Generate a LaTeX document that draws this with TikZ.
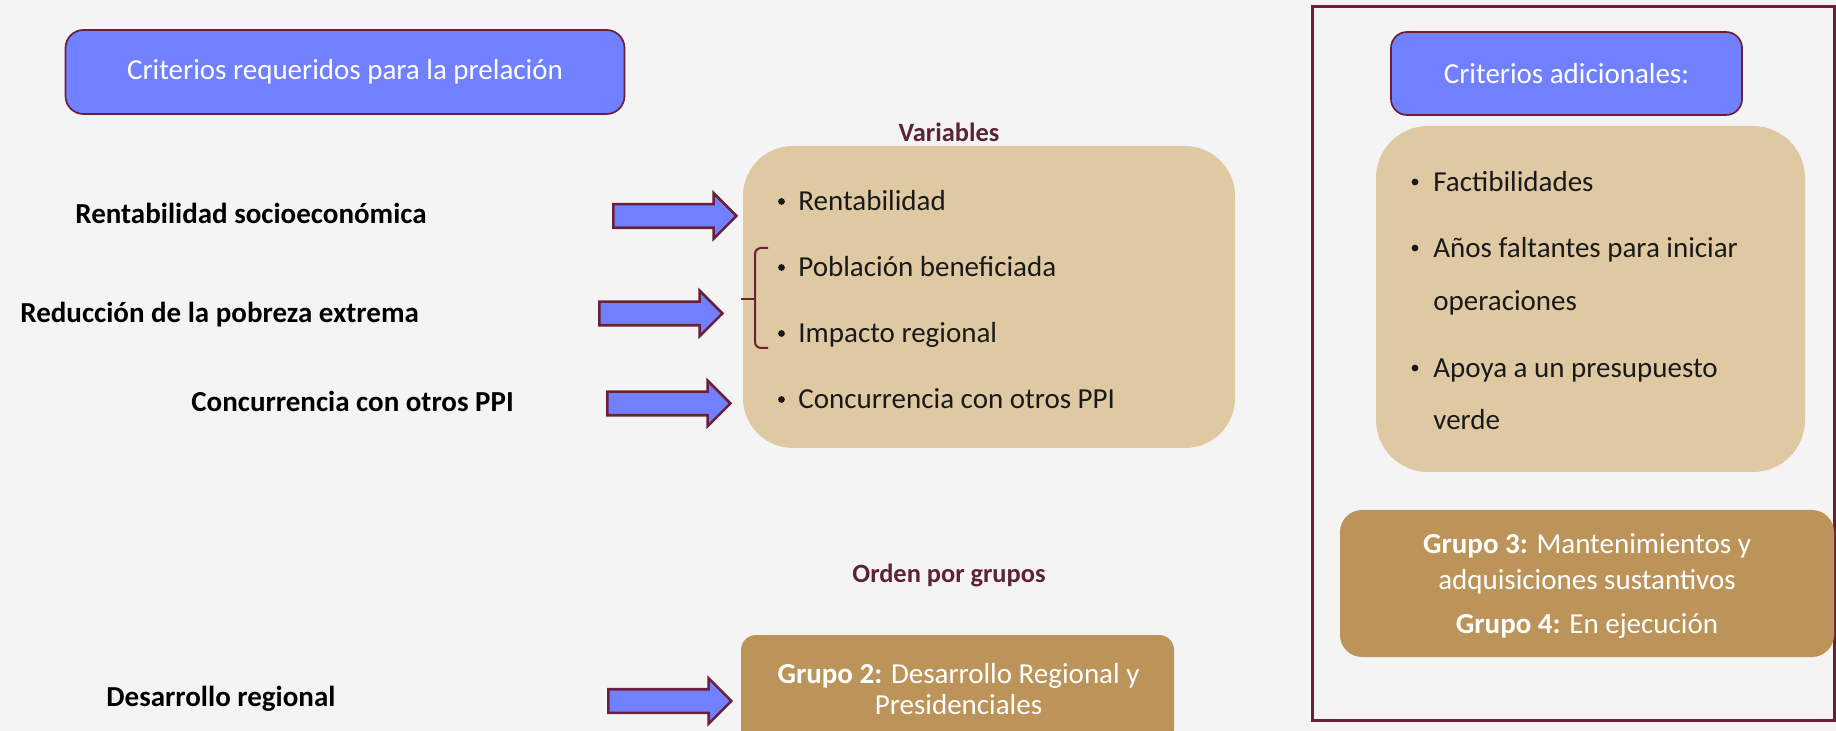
\documentclass[tikz,border=0pt]{standalone}
\usepackage{fontspec}
\setmainfont{Carlito}
\usetikzlibrary{shapes.arrows}
\definecolor{bg}{HTML}{F4F4F4}
\definecolor{bluefill}{HTML}{7080FF}
\definecolor{maroon}{HTML}{6B1F3A}
\definecolor{tanfill}{HTML}{DFC9A3}
\definecolor{goldfill}{HTML}{BC9459}
\definecolor{darkred}{HTML}{5C2333}
\tikzset{
  bluebox/.style={draw=maroon, line width=0.85pt, fill=bluefill, rounded corners=9pt, text=white, inner sep=0pt},
  tanbox/.style={fill=tanfill, draw=none, inner sep=0pt},
  goldbox/.style={fill=goldfill, draw=none, inner sep=0pt},
  lbl/.style={anchor=base west, inner sep=0pt, font=\fontsize{14.5}{17}\selectfont\bfseries},
  hdr/.style={inner sep=0pt, text=darkred, font=\fontsize{13.2}{15}\selectfont\bfseries},
  blockarrow/.style={single arrow, draw=maroon, line width=1.3pt, fill=bluefill,
    single arrow head extend=5.5pt, single arrow tip angle=90, minimum height=61.5pt,
    minimum width=0pt, text height=5.25pt, text depth=5.25pt, text width=0pt, inner sep=0pt},
  bul/.style={circle, fill=black!90, inner sep=0pt, minimum size=3.4pt},
  itm/.style={anchor=base west, inner sep=0pt, text=black!90},
  lfont/.style={font=\fontsize{14.5}{17}\selectfont},
  wtxt/.style={anchor=base, inner sep=0pt, text=white}
}
\begin{document}
\begin{tikzpicture}[x=0.5pt,y=-0.5pt]
\clip (0,0) rectangle (1836,731);
\fill[bg] (0,0) rectangle (1836,731);

% left title
\node[bluebox, minimum width=279.5pt, minimum height=42pt, lfont] (crit) at (345,72) {Criterios requeridos para la prelación};

% variables box
\node[hdr] (vartitle) at (949,132) {Variables};
\node[tanbox, rounded corners=25pt, minimum width=246pt, minimum height=151pt] (varbox) at (989,297) {};
\foreach \t/\yy [count=\i] in {Rentabilidad/211, Población beneficiada/277, Impacto regional/343, Concurrencia con otros PPI/409} {
  \node[bul] (vb\i) at (781.5,\yy-9.5) {};
  \node[itm, lfont] (vt\i) at (798,\yy) {\t};
}
% bracket
\coordinate (brtop) at (768,248);
\coordinate (brbot) at (768,348);
\coordinate (brmid) at (755,299);
\coordinate (brtick) at (741,299);
\draw[maroon, line width=1pt, rounded corners=3pt] (brtop) -| (brmid) |- (brbot);
\draw[maroon, line width=1.2pt] (brtick) -- (brmid);

% arrows
\node[blockarrow] (a1) at (669,216) {};
\node[blockarrow] (a2) at (655,313.5) {};
\node[blockarrow] (a3) at (663,403.5) {};
\node[blockarrow] (a4) at (664,701) {};

% left labels
\node[lbl] (l1) at (75,224) {Rentabilidad socioeconómica};
\node[lbl] (l2) at (20,323) {Reducción de la pobreza extrema};
\node[lbl] (l3) at (191,412) {Concurrencia con otros PPI};
\node[lbl] (l4) at (106,706) {Desarrollo regional};

% orden por grupos
\node[hdr] (orden) at (949,575) {Orden por grupos};
\node[goldbox, rounded corners=7.5pt, minimum width=216.5pt, minimum height=55pt] (g2) at (957.5,690) {};
\node[wtxt, lfont] (g2a) at (958.5,683) {\textbf{Grupo 2:} Desarrollo Regional y};
\node[wtxt, lfont] (g2b) at (958.5,714) {Presidenciales};

% right frame
\node[draw=maroon, line width=1.5pt, minimum width=261pt, minimum height=356.5pt, inner sep=0pt] (frame) at (1573,363.5) {};
\node[bluebox, rounded corners=8pt, minimum width=175.5pt, minimum height=41.5pt, lfont] (adic) at (1566.5,73.5) {Criterios adicionales:};
\node[tanbox, rounded corners=26pt, minimum width=214.5pt, minimum height=173pt] (adbox) at (1590.5,299) {};
\node[bul] (rb1) at (1415,182) {};
\node[itm, lfont] (rt1) at (1433,191.5) {Factibilidades};
\node[bul] (rb2) at (1415,248) {};
\node[itm, lfont] (rt2) at (1433,257.5) {Años faltantes para iniciar};
\node[itm, lfont] (rt2b) at (1433,310.5) {operaciones};
\node[bul] (rb3) at (1415,368) {};
\node[itm, lfont] (rt3) at (1433,377.5) {Apoya a un presupuesto};
\node[itm, lfont] (rt3b) at (1433,429.5) {verde};

\node[goldbox, rounded corners=11pt, minimum width=247pt, minimum height=73.5pt] (g34) at (1587,583.5) {};
\node[wtxt, lfont] (g3a) at (1587,554) {\textbf{Grupo 3:} Mantenimientos y};
\node[wtxt, lfont] (g3b) at (1587,589) {adquisiciones sustantivos};
\node[wtxt, lfont] (g4) at (1587,633) {\textbf{Grupo 4:} En ejecución};
\end{tikzpicture}
\end{document}
